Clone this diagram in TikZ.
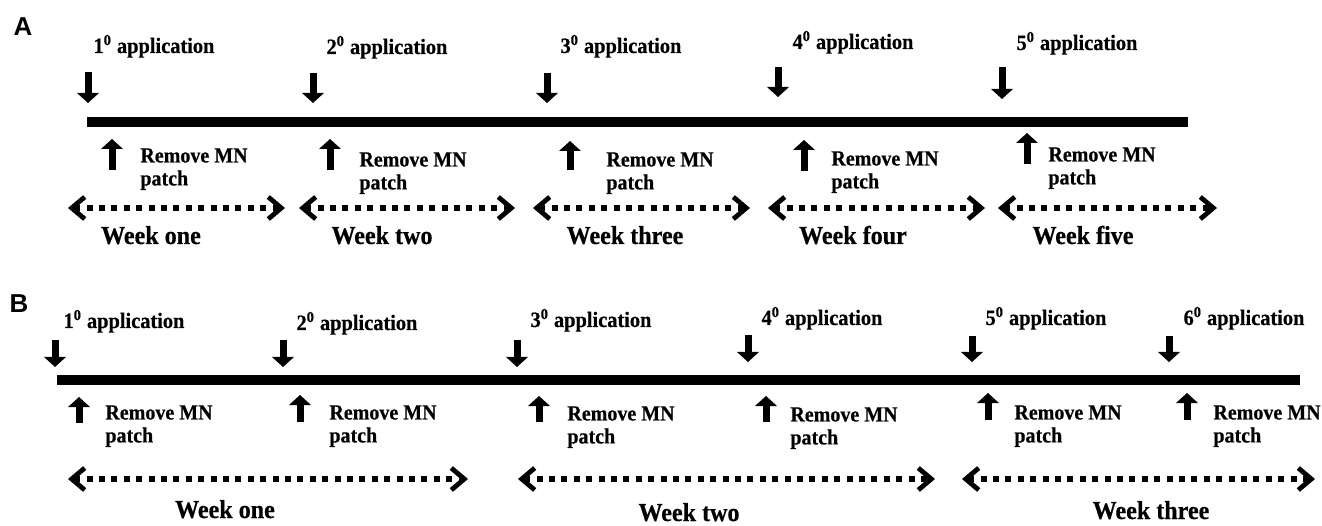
\documentclass[tikz,border=0pt]{standalone}
\usepackage{fontspec}
\setmainfont[FakeStretch=0.93, BoldFeatures={FakeBold=0.5}]{Liberation Serif}
\newfontfamily\panelfont{Liberation Sans}
\usetikzlibrary{arrows.meta}

\tikzset{
  timebar/.style={line width=5bp},
  blockarr/.style={line width=3.5bp, -{Triangle[length=5bp,width=11bp,line width=0pt]}},
  weekarr/.style={line width=3bp, dash pattern=on 3bp off 3.2bp,
    {Straight Barb[length=6.5bp,width=11bp,line width=2.4bp]}-{Straight Barb[length=6.5bp,width=11bp,line width=2.4bp]}},
  panellab/.style={font=\panelfont\bfseries\fontsize{13}{15}\selectfont, inner sep=0},
  applab/.style={font=\bfseries\fontsize{11}{13}\selectfont, anchor=base, inner sep=0},
  remlab/.style={font=\bfseries\fontsize{10.8}{11.5}\selectfont, align=left, anchor=north west, inner sep=0},
  weeklab/.style={font=\bfseries\fontsize{13}{15}\selectfont, anchor=base, inner sep=0},
}

\begin{document}
\begin{tikzpicture}[x=0.5bp, y=-0.5bp]
\useasboundingbox (0,0) rectangle (1322,526);

% Panel A
\node[panellab] (labA) at (23,27) {A};
\coordinate (barAs) at (87,122);
\coordinate (barAe) at (1188,122);
\draw[timebar] (barAs) -- (barAe);

% applications
\foreach \n/\x/\t/\b/\lx/\ly in {1/88/72/103/154/53, 2/313/73/103/387/54, 3/547/73/103/621/53,
    4/778/67/97/853/49, 5/1002/67/99/1077/50} {
  \coordinate (dA\n) at (\x,\t);
  \coordinate (dAtip\n) at (\x,\b);
  \draw[blockarr] (dA\n) -- (dAtip\n);
  \node[applab] (appA\n) at (\lx,\ly) {\n\textsuperscript{0} application};
}

% removals
\foreach \n/\x/\b/\t/\rx/\ry in {1/112/170/139/140/148, 2/330/170/139/359/152, 3/570/170/141/606/152,
    4/804/171/140/831/151, 5/1027/164/133/1048/147} {
  \coordinate (uA\n) at (\x,\b);
  \coordinate (uAtip\n) at (\x,\t);
  \draw[blockarr] (uA\n) -- (uAtip\n);
  \node[remlab] (remA\n) at (\rx,\ry) {Remove MN\\patch};
}

% weeks
\foreach \n/\a/\b/\wx/\wt in {1/68/285/151/one, 2/299/515/382/two, 3/533/750/625/three,
    4/768/985/853/four, 5/998/1217/1083/five} {
  \coordinate (wAl\n) at (\a,208);
  \coordinate (wAr\n) at (\b,208);
  \draw[weekarr] (wAl\n) -- (wAr\n);
  \node[weeklab] (weekA\n) at (\wx,244) {Week \wt};
}

% Panel B
\node[panellab] (labB) at (19,304) {B};
\coordinate (barBs) at (57,380);
\coordinate (barBe) at (1300,380);
\draw[timebar] (barBs) -- (barBe);

% applications
\foreach \n/\x/\t/\b/\lx/\ly in {1/55/340/367/124/328, 2/283/340/367/357/330, 3/517/340/367/591/327,
    4/748/335/362/822/325, 5/972/336/362/1046/325, 6/1169/336/362/1244/325} {
  \coordinate (dB\n) at (\x,\t);
  \coordinate (dBtip\n) at (\x,\b);
  \draw[blockarr] (dB\n) -- (dBtip\n);
  \node[applab] (appB\n) at (\lx,\ly) {\n\textsuperscript{0} application};
}

% removals
\foreach \n/\x/\b/\t/\rx/\ry in {1/79/423/397/105/405, 2/300/422/395/329/405, 3/539/422/396/567/406,
    4/766/422/396/790/407, 5/988/420/393/1014/405, 6/1187/420/393/1213/405} {
  \coordinate (uB\n) at (\x,\b);
  \coordinate (uBtip\n) at (\x,\t);
  \draw[blockarr] (uB\n) -- (uBtip\n);
  \node[remlab] (remB\n) at (\rx,\ry) {Remove MN\\patch};
}

% weeks
\foreach \n/\a/\b/\wx/\wy/\wt in {1/68/468/225/518/one, 2/518/935/689/521/two, 3/962/1315/1151/519/three} {
  \coordinate (wBl\n) at (\a,479);
  \coordinate (wBr\n) at (\b,479);
  \draw[weekarr] (wBl\n) -- (wBr\n);
  \node[weeklab] (weekB\n) at (\wx,\wy) {Week \wt};
}
\end{tikzpicture}
\end{document}
